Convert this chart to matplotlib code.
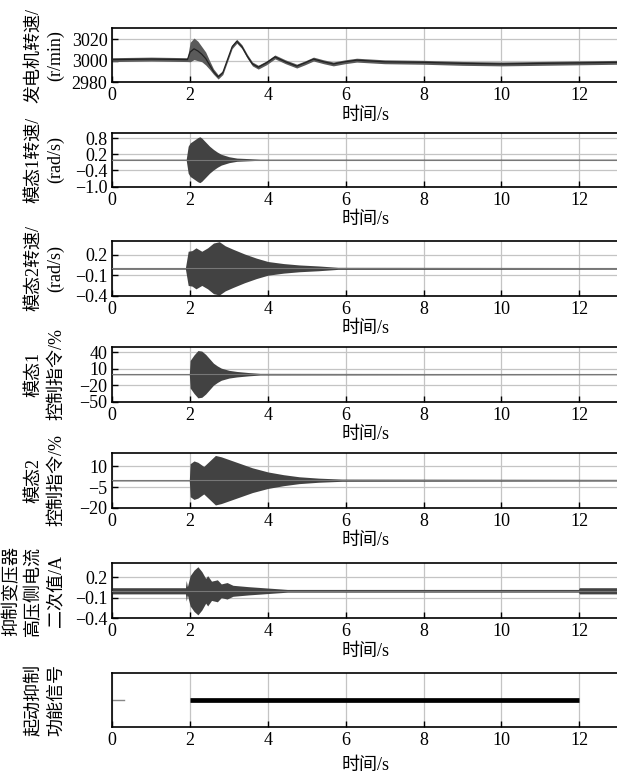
import numpy as np
import matplotlib
matplotlib.use("Agg")
import matplotlib.pyplot as plt

plt.rcParams['font.family'] = ['Liberation Serif', 'Noto Sans CJK SC']
plt.rcParams['font.size'] = 12.5

#Panel 1: generator speed, centre of the trace read at peaks/troughs (r/min)
t_speed = [0, 1.0, 1.93, 2.0, 2.1, 2.2, 2.3, 2.4, 2.5, 2.6, 2.72, 2.84, 2.96, 3.08, 3.2,
           3.33, 3.47, 3.6, 3.75, 3.96, 4.18, 4.45, 4.74, 4.95, 5.17, 5.43, 5.68, 5.98,
           6.28, 7.0, 8.0, 9.0, 10.0, 11.0, 12.0, 13.0]
speed = [3001, 3001.5, 3001, 3008, 3011, 3009, 3006, 3002, 2996, 2990, 2985, 2989, 3001,
         3013, 3018, 3013, 3004, 2997, 2994, 2998, 3003.5, 2999, 2995, 2998, 3001.5, 2999,
         2997, 2999, 3000.5, 2999, 2998.5, 2997.5, 2997, 2997.5, 2998, 2998.5]
#half width of the noisy band around the centre
speed_hw = [1.8, 1.8, 1.8, 9, 10, 9, 7, 6, 4, 2.5, 2, 1.8, 1.8,
            1.8, 1.8, 1.8, 1.8, 1.8, 1.8, 1.8, 1.8, 1.8, 1.8, 1.8, 1.8, 1.8,
            1.8, 1.8, 1.8, 1.8, 1.8, 1.8, 1.8, 1.8, 1.8, 1.8]

#Panel 2: mode 1 speed, envelope of the oscillation (rad/s)
t_m1 = [0, 1.9, 1.95, 2.0, 2.1, 2.2, 2.25, 2.3, 2.4, 2.5, 2.6, 2.7, 2.8, 3.0, 3.2, 3.5, 3.8, 13]
amp_m1 = [0.02, 0.02, 0.5, 0.62, 0.72, 0.82, 0.85, 0.8, 0.65, 0.5, 0.38, 0.28, 0.2, 0.11,
          0.06, 0.04, 0.02, 0.02]

#Panel 3: mode 2 speed envelope (rad/s)
t_m2 = [0, 1.88, 1.95, 2.05, 2.15, 2.3, 2.45, 2.6, 2.75, 2.9, 3.1, 3.4, 3.7, 4.0, 4.4, 4.8,
        5.3, 5.8, 13]
amp_m2 = [0.012, 0.012, 0.25, 0.26, 0.3, 0.25, 0.3, 0.37, 0.39, 0.33, 0.28, 0.21, 0.15, 0.1,
          0.07, 0.05, 0.035, 0.015, 0.012]

#Panel 4: mode 1 control command envelope (%)
t_c1 = [0, 1.98, 2.0, 2.1, 2.2, 2.3, 2.4, 2.5, 2.6, 2.7, 2.8, 3.0, 3.2, 3.5, 3.8, 13]
amp_c1 = [1, 1, 25, 35, 43, 42, 36, 28, 20, 15, 11, 7, 5, 3, 1.5, 1]

#Panel 5: mode 2 control command envelope (%)
t_c2 = [0, 1.98, 2.0, 2.1, 2.2, 2.35, 2.5, 2.65, 2.8, 3.0, 3.3, 3.6, 4.0, 4.4, 4.8, 5.3, 5.9, 13]
amp_c2 = [0.5, 0.5, 12, 14, 13, 10, 14, 18, 17, 15, 12, 9, 6, 4, 2.5, 1.5, 0.8, 0.6]

#Panel 6: HV side current of suppression transformer, secondary value (A)
t_hv = [0, 1.88, 1.9, 1.93, 2.0, 2.1, 2.2, 2.3, 2.4, 2.45, 2.55, 2.7, 2.8, 2.95, 3.1, 3.5,
        4.0, 4.5, 11.98, 12.0, 13]
amp_hv = [0.045, 0.045, 0.15, 0.06, 0.22, 0.3, 0.35, 0.28, 0.18, 0.22, 0.14, 0.16, 0.1, 0.12,
          0.08, 0.06, 0.04, 0.02, 0.02, 0.045, 0.045]

#Panel 7: start signal of suppression function
t_init = [0, 0.3]
t_on = [2, 12]
sig_level = 0.5

ylabels = ["发电机转速/\n(r/min)", "模态1转速/\n(rad/s)", "模态2转速/\n(rad/s)",
           "模态1\n控制指令/%", "模态2\n控制指令/%", "抑制变压器\n高压侧电流\n二次值/A",
           "起动抑制\n功能信号"]
ylims = [(2980, 3030), (-1, 1), (-0.4, 0.4), (-50, 50), (-20, 20), (-0.4, 0.4), (0, 1)]
yticks = [[2980, 3000, 3020], [-1.0, -0.4, 0.2, 0.8], [-0.4, -0.1, 0.2], [-50, -20, 10, 40],
          [-20, -5, 10], [-0.4, -0.1, 0.2], []]
ytick_fmt = ["%d", "%.1f", "%.1f", "%d", "%d", "%.1f", "%d"]
xticks = [0, 2, 4, 6, 8, 10, 12]

#panel positions in pixels (top, bottom) of a 617x777 figure
W, H = 617., 777.
pan_top = [28.3, 132.7, 241.0, 346.7, 452.7, 563.3, 672.7]
pan_bot = [82.3, 186.7, 295.7, 401.7, 507.7, 618.3, 727.3]
x0_px, x1_px = 112.3, 618.2

fig = plt.figure(figsize=(W/100, H/100), dpi=100)
axes = []
for i in range(7):
    ax = fig.add_axes([x0_px/W, 1-pan_bot[i]/H, (x1_px-x0_px)/W, (pan_bot[i]-pan_top[i])/H])
    axes.append(ax)

band = "#424242"

#Panel 1
ax = axes[0]
lo = np.array(speed) - np.array(speed_hw)
hi = np.array(speed) + np.array(speed_hw)
ax.fill_between(t_speed, lo, hi, color="#5a5a5a", lw=0, zorder=2)
ax.plot(t_speed, speed, color="#222222", lw=0.9, zorder=3)

#Panels 2-6, envelopes around zero
env = [(t_m1, amp_m1), (t_m2, amp_m2), (t_c1, amp_c1), (t_c2, amp_c2), (t_hv, amp_hv)]
for i, (t, a) in enumerate(env):
    ax = axes[i+1]
    a = np.array(a)
    ax.fill_between(t, -a, a, color=band, lw=0, zorder=2)
    ax.plot([t[0], t[-1]], [0, 0], color="#777777", lw=0.8, zorder=3)

#Panel 7
ax = axes[6]
ax.plot(t_init, [sig_level, sig_level], color="#888888", lw=1.0)
ax.plot(t_on, [sig_level, sig_level], color="k", lw=3.4, solid_capstyle="butt")

for i, ax in enumerate(axes):
    ax.set_xlim(0, 13)
    ax.set_ylim(*ylims[i])
    ax.set_xticks(xticks)
    ax.set_xticklabels([str(v) for v in xticks])
    ax.set_yticks(yticks[i])
    ax.set_yticklabels([ytick_fmt[i] % v if v >= 0 else "\u2212" + ytick_fmt[i] % (-v)
                        for v in yticks[i]])
    ax.set_axisbelow(True)
    ax.grid(True, color="#c4c4c4", lw=0.9)
    ax.tick_params(direction="in", length=4, width=1.0, labelsize=13, pad=3.5)
    for s in ax.spines.values():
        s.set_linewidth(1.2)
    ax.set_xlabel("时间/s", fontsize=13, labelpad=2 if i < 6 else 6)
    ax.set_ylabel(ylabels[i], fontsize=13, linespacing=1.4)
    ax.yaxis.set_label_coords(-0.094, 0.5)

fig.savefig("out.png", dpi=100)
